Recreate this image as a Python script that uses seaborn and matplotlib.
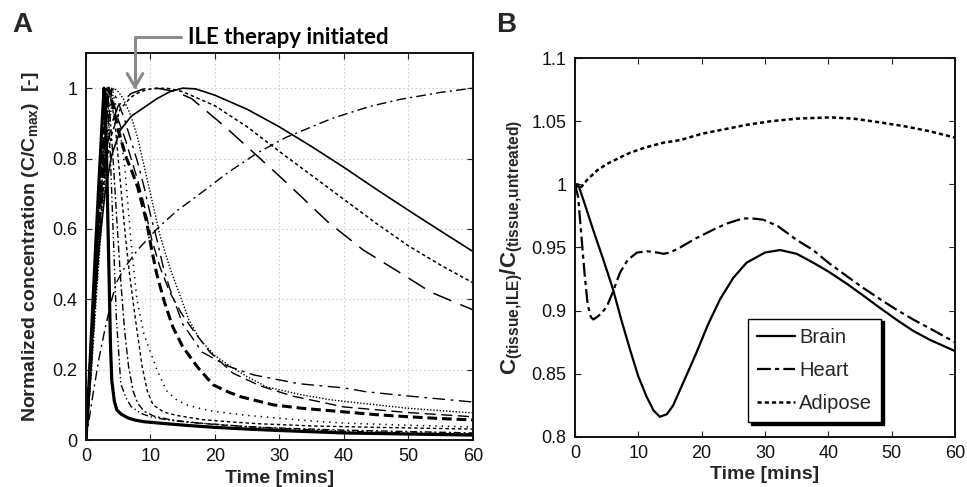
import matplotlib
matplotlib.use("Agg")
import matplotlib.pyplot as plt
import seaborn as sns
from matplotlib.ticker import FixedLocator, FixedFormatter

# ---------------- data ----------------
# Panel A: normalized tissue concentrations
f1_t = [0,0.5,1,1.5,2,2.5,2.8,3.0,3.2,3.4,3.6,3.8,4.0,4.4,4.8,5.5,6.5,7.5,9,12,16,20,25,30,40,50,60]
f1_v = [0,0.17,0.36,0.55,0.73,0.9,1.0,0.95,0.8,0.62,0.45,0.27,0.17,0.11,0.085,0.073,0.063,0.057,0.052,0.047,0.041,0.036,0.031,0.027,0.02,0.017,0.014]
f2_t = [0,0.6,1.2,1.8,2.4,3.0,3.4,3.8,4.2,4.7,5.4,6.2,7,8.5,10,13,16,20,25,30,40,50,60]
f2_v = [0,0.2,0.42,0.64,0.84,1.0,0.95,0.8,0.6,0.35,0.16,0.12,0.095,0.076,0.066,0.056,0.05,0.045,0.038,0.033,0.025,0.02,0.017]
f3_t = [0,0.6,1.3,1.9,2.6,3.2,3.7,4.2,4.8,5.4,6,6.6,7.3,8,9,10.5,13,16,20,25,30,40,50,60]
f3_v = [0,0.19,0.42,0.63,0.85,1.0,0.93,0.8,0.62,0.45,0.31,0.21,0.14,0.105,0.082,0.068,0.058,0.051,0.044,0.038,0.034,0.028,0.024,0.02]
f4_t = [0,0.7,1.4,2.0,2.7,3.4,4,4.6,5.3,6,6.7,7.4,8,8.7,9.5,10.4,12,14,18,22,27,35,45,60]
f4_v = [0,0.2,0.43,0.62,0.84,1.0,0.96,0.88,0.74,0.6,0.48,0.38,0.3,0.21,0.14,0.1,0.08,0.07,0.058,0.052,0.046,0.04,0.036,0.031]
f5_t = [0,0.7,1.5,2.2,3,3.7,4.4,5,6,7,7.9,9,10,11,12.5,14,15.6,18,20,25,30,35,40,50,60]
f5_v = [0,0.19,0.41,0.61,0.84,1.0,0.97,0.92,0.78,0.56,0.4,0.3,0.25,0.2,0.14,0.115,0.1,0.088,0.081,0.07,0.062,0.054,0.048,0.042,0.037]
f6_t = [0,0.7,1.4,2.1,2.8,3.5,4.2,5,6.3,7.2,8,8.7,9.4,10.2,11,12.2,13.5,15,17.4,19.7,22,24,29,33.6,40,45,50,55,60]
f6_v = [0,0.2,0.43,0.64,0.85,1.0,0.95,0.88,0.8,0.76,0.72,0.67,0.62,0.54,0.47,0.39,0.32,0.265,0.205,0.157,0.137,0.123,0.1,0.09,0.08,0.072,0.066,0.061,0.057]
f7_t = [0,0.7,1.4,2.2,2.9,3.6,4.3,5,6,7,8,9,10.2,11.5,13,14.8,16.7,19.2,22.8,27,32,40,50,60]
f7_v = [0,0.2,0.42,0.65,0.85,1.0,0.96,0.91,0.86,0.8,0.74,0.67,0.57,0.49,0.42,0.36,0.31,0.25,0.19,0.154,0.125,0.094,0.078,0.066]
f8_t = [0,0.8,1.6,2.4,3.2,4,5,6,7,8,9,10,11,12,13,15,18,22,26,33,40,43.5,50,60]
f8_v = [0,0.2,0.43,0.65,0.85,1.0,0.96,0.91,0.85,0.79,0.72,0.64,0.57,0.49,0.43,0.33,0.25,0.21,0.185,0.16,0.148,0.137,0.125,0.108]
f9_t = [0,0.9,1.7,2.6,3.4,4.3,5,5.8,7,8,9,10,11.5,13,14.6,16,17.7,20,22,25,28,33,38,45,50,60]
f9_v = [0,0.21,0.43,0.66,0.86,1.0,0.99,0.97,0.92,0.86,0.78,0.7,0.58,0.49,0.41,0.34,0.285,0.24,0.214,0.18,0.151,0.13,0.114,0.1,0.09,0.077]
s1_t = [0,0.5,1,1.5,2,3,4,5.3,7,9,11,13,15,17,20,25,30,35,40,45,50,55,60]
s1_v = [0,0.16,0.3,0.43,0.54,0.71,0.81,0.88,0.92,0.945,0.97,0.99,1.0,0.998,0.98,0.94,0.89,0.834,0.775,0.713,0.653,0.594,0.536]
s2_t = [0,0.5,1,1.5,2,3,4,5.3,7,8.4,10,12.5,15,20,25,30,35,40,45,50,55,60]
s2_v = [0,0.18,0.33,0.47,0.59,0.77,0.87,0.94,0.975,0.99,0.998,1.0,0.99,0.95,0.89,0.82,0.752,0.684,0.616,0.552,0.497,0.447]
s3_t = [0,0.5,1,1.5,2,3,4,5,7,9,11,14,16.4,19,21.6,24,27,30,33.2,37.5,43,48.3,53.5,60]
s3_v = [0,0.2,0.37,0.52,0.64,0.81,0.9,0.95,0.985,0.998,1.0,0.99,0.97,0.93,0.89,0.85,0.8,0.75,0.695,0.62,0.54,0.48,0.42,0.37]
s4_t = [0,0.5,1,2,3,4,4.8,6,8,11,14,17.7,22,26.5,31,35,38.3,44,48.7,55,60]
s4_v = [0,0.06,0.12,0.23,0.32,0.4,0.45,0.49,0.54,0.6,0.65,0.70,0.76,0.815,0.86,0.89,0.915,0.948,0.968,0.988,1.0]

# Panel B: concentration ratio treated / untreated
brain_t = [0,0.5,1.5,3,4.5,6,7.3,8.7,10,11.3,12.4,13.4,14.5,15.5,17,19.2,21,22.9,25,27.1,30,32.4,35,37.6,40,43,45.5,48.2,51,53.4,56,60]
brain_v = [1.0,1.0,0.985,0.962,0.94,0.917,0.893,0.869,0.848,0.832,0.821,0.816,0.818,0.825,0.842,0.867,0.889,0.909,0.926,0.938,0.946,0.948,0.945,0.938,0.931,0.921,0.912,0.902,0.892,0.884,0.877,0.868]
heart_t = [0,0.5,1,1.5,2,2.5,2.9,3.5,4.2,5,6,7.1,8.3,9.8,11.5,13,14,15,16.6,19,21.8,24,26.5,28,29.7,32,35,37.6,40,43,45.5,48.2,51,53.4,56,60]
heart_v = [1.0,0.99,0.96,0.93,0.905,0.895,0.893,0.895,0.898,0.903,0.915,0.93,0.94,0.946,0.947,0.946,0.945,0.946,0.95,0.957,0.964,0.969,0.973,0.973,0.972,0.967,0.956,0.948,0.938,0.927,0.918,0.909,0.9,0.893,0.886,0.875]
adipose_t = [0,0.5,1,2,3.5,5,7,8.7,11,14,16.6,20,24,27,31,35,40.3,44,48.2,52,56,60]
adipose_v = [1.0,0.997,0.998,1.004,1.011,1.016,1.021,1.025,1.029,1.033,1.035,1.04,1.044,1.047,1.05,1.052,1.053,1.052,1.049,1.046,1.042,1.037]
legend_labels = ["Brain", "Heart", "Adipose"]

x_ticks = [0, 10, 20, 30, 40, 50, 60]
x_tick_labels = ["0", "10", "20", "30", "40", "50", "60"]
a_y_ticks = [0, 0.2, 0.4, 0.6, 0.8, 1.0]
a_y_tick_labels = ["0", "0.2", "0.4", "0.6", "0.8", "1"]
b_y_ticks = [0.8, 0.85, 0.9, 0.95, 1.0, 1.05, 1.1]
b_y_tick_labels = ["0.8", "0.85", "0.9", "0.95", "1", "1.05", "1.1"]
ile_time = 7.6
ile_label = "ILE therapy initiated"

# ---------------- style ----------------
sns.set_theme(style="ticks")
plt.rcParams["font.family"] = ["Liberation Sans", "DejaVu Sans"]
plt.rcParams["mathtext.fontset"] = "custom"
plt.rcParams["mathtext.rm"] = "Liberation Sans:bold"
plt.rcParams["mathtext.bf"] = "Liberation Sans:bold"
plt.rcParams["mathtext.it"] = "Liberation Sans:bold"
plt.rcParams["lines.scale_dashes"] = False

fig = plt.figure(figsize=(9.67, 4.87), dpi=100)
axA = fig.add_axes([0.0889, 0.0965, 0.4001, 0.7947])
axB = fig.add_axes([0.5946, 0.1027, 0.3930, 0.7782])

K = "black"
curvesA = [
    (f1_t, f1_v, 2.3, "-"),
    (f2_t, f2_v, 1.0, (0, (5, 2, 1, 2, 1, 2))),
    (f3_t, f3_v, 1.0, (0, (5, 2, 1.5, 2))),
    (f4_t, f4_v, 1.0, (0, (2.5, 2))),
    (f5_t, f5_v, 1.1, (0, (1, 3.5))),
    (f6_t, f6_v, 2.2, (0, (7, 3.5))),
    (f7_t, f7_v, 1.0, (0, (8, 4))),
    (f8_t, f8_v, 1.0, (0, (9, 4, 2, 4))),
    (f9_t, f9_v, 1.0, (0, (1, 1.3))),
    (s1_t, s1_v, 1.2, "-"),
    (s2_t, s2_v, 1.1, (0, (2.5, 2))),
    (s3_t, s3_v, 1.1, (0, (14, 7))),
    (s4_t, s4_v, 1.0, (0, (7, 3, 1.5, 3))),
]
for t, v, lw, ls in curvesA:
    sns.lineplot(x=t, y=v, ax=axA, color=K, lw=lw, linestyle=ls,
                 estimator=None, sort=False)

sns.lineplot(x=brain_t, y=brain_v, ax=axB, color=K, lw=1.6, linestyle="-",
             estimator=None, sort=False, label=legend_labels[0])
sns.lineplot(x=heart_t, y=heart_v, ax=axB, color=K, lw=1.6,
             linestyle=(0, (10, 3, 3, 3)), estimator=None, sort=False,
             label=legend_labels[1])
sns.lineplot(x=adipose_t, y=adipose_v, ax=axB, color=K, lw=1.8,
             linestyle=(0, (3, 2.2)), estimator=None, sort=False,
             label=legend_labels[2])

# ---------------- axes ----------------
for ax in (axA, axB):
    ax.set_xlim(0, 60)
    ax.xaxis.set_major_locator(FixedLocator(x_ticks))
    ax.xaxis.set_major_formatter(FixedFormatter(x_tick_labels))
    ax.tick_params(direction="in", top=True, right=True, length=4,
                   width=0.8, labelsize=13, pad=6, colors="#222222",
                   labelcolor="#111111")
    for sp in ax.spines.values():
        sp.set_visible(True)
        sp.set_linewidth(1.4)
        sp.set_color("#111111")
    ax.set_xlabel("Time [mins]", fontsize=14, fontweight="bold", labelpad=3)

axA.set_ylim(0, 1.1)
axA.yaxis.set_major_locator(FixedLocator(a_y_ticks))
axA.yaxis.set_major_formatter(FixedFormatter(a_y_tick_labels))
axA.grid(True, linestyle=(0, (1, 2)), color="#c8c8c8", lw=0.8)
axA.set_ylabel(r"Normalized concentration (C/C$_{\mathbf{max}}$)  [-]",
               fontsize=14, fontweight="bold", labelpad=8)

axB.set_ylim(0.8, 1.1)
axB.yaxis.set_major_locator(FixedLocator(b_y_ticks))
axB.yaxis.set_major_formatter(FixedFormatter(b_y_tick_labels))
axB.grid(False)
axB.set_ylabel(r"$\mathbf{C}_{\mathbf{(tissue{,}ILE)}}\mathbf{/C}_{\mathbf{(tissue{,}untreated)}}$",
               fontsize=16, labelpad=5)

leg = axB.legend(loc="lower left", bbox_to_anchor=(0.455, 0.04),
                 fontsize=14.5, frameon=True, fancybox=False,
                 shadow={"color": "black", "alpha": 1.0},
                 handlelength=1.9, handletextpad=0.2, labelspacing=0.7,
                 borderpad=0.45, borderaxespad=0)
leg.get_frame().set_edgecolor("black")
leg.get_frame().set_linewidth(1.0)

# annotation arrow
axA.annotate(ile_label, xy=(ile_time, 0.995), xycoords="data",
             xytext=(188 / 967, 1 - 37 / 487), textcoords="figure fraction",
             ha="left", va="center", fontsize=16, fontweight="bold",
             family=["Lato", "DejaVu Sans"], color="black",
             annotation_clip=False,
             arrowprops=dict(arrowstyle="->,head_length=0.6,head_width=0.35",
                             color="#8a8a8a", lw=2.2,
                             connectionstyle="angle,angleA=0,angleB=90,rad=0",
                             relpos=(0, 0.5), shrinkA=3, shrinkB=0))

fig.text(12 / 967, 1 - 12 / 487, "A", fontsize=20, fontweight="bold",
         ha="left", va="top")
fig.text(496 / 967, 1 - 12 / 487, "B", fontsize=20, fontweight="bold",
         ha="left", va="top")

fig.savefig("out.png", dpi=100)
